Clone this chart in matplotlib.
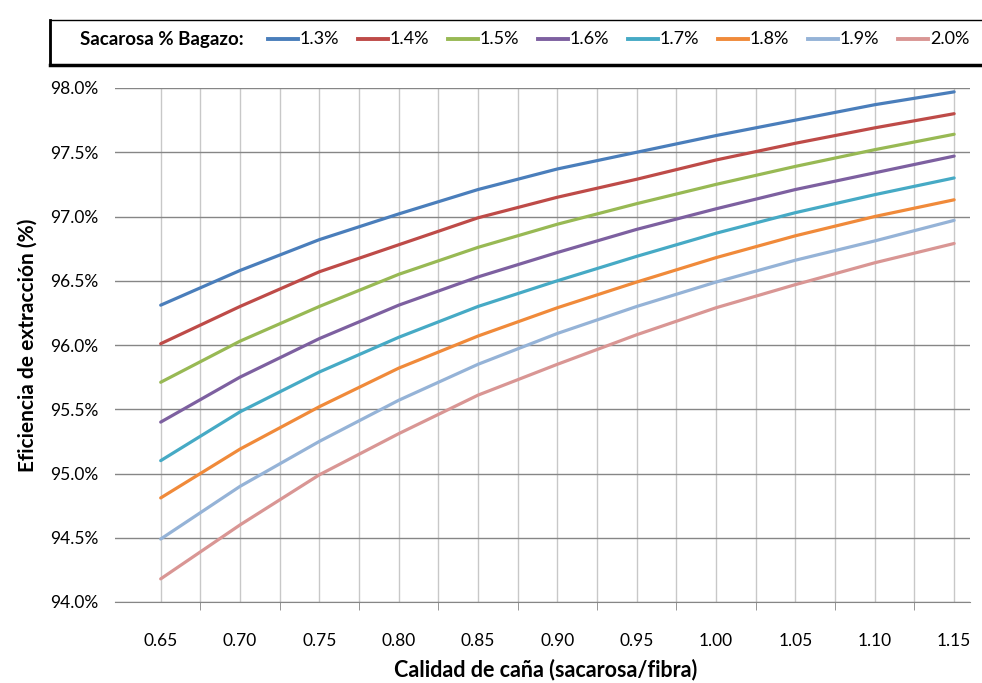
import numpy as np
import matplotlib
matplotlib.use('Agg')
import matplotlib.pyplot as plt
from matplotlib.patches import Rectangle
from matplotlib.lines import Line2D
from matplotlib.ticker import FuncFormatter

plt.rcParams['font.family'] = ['Lato', 'DejaVu Sans']

# calidad de caña (sacarosa/fibra)
calidad = [0.65, 0.70, 0.75, 0.80, 0.85, 0.90, 0.95, 1.00, 1.05, 1.10, 1.15]

# eficiencia de extraccion (%) para cada sacarosa % bagazo
ef_13 = [96.31, 96.58, 96.82, 97.02, 97.21, 97.37, 97.50, 97.63, 97.75, 97.87, 97.97]
ef_14 = [96.01, 96.30, 96.57, 96.78, 96.99, 97.15, 97.29, 97.44, 97.57, 97.69, 97.80]
ef_15 = [95.71, 96.03, 96.30, 96.55, 96.76, 96.94, 97.10, 97.25, 97.39, 97.52, 97.64]
ef_16 = [95.40, 95.75, 96.05, 96.31, 96.53, 96.72, 96.90, 97.06, 97.21, 97.34, 97.47]
ef_17 = [95.10, 95.48, 95.79, 96.06, 96.30, 96.50, 96.69, 96.87, 97.03, 97.17, 97.30]
ef_18 = [94.81, 95.19, 95.52, 95.82, 96.07, 96.29, 96.49, 96.68, 96.85, 97.00, 97.13]
ef_19 = [94.49, 94.90, 95.25, 95.57, 95.85, 96.09, 96.30, 96.49, 96.66, 96.81, 96.97]
ef_20 = [94.18, 94.60, 94.99, 95.31, 95.61, 95.85, 96.08, 96.29, 96.47, 96.64, 96.79]

etiquetas = ['1.3%', '1.4%', '1.5%', '1.6%', '1.7%', '1.8%', '1.9%', '2.0%']
series = [ef_13, ef_14, ef_15, ef_16, ef_17, ef_18, ef_19, ef_20]
colores = ['#4a7ebb', '#be4b48', '#98b954', '#7d60a0', '#46aac5', '#f08a3a', '#95b3d7', '#d99694']

fig = plt.figure(figsize=(9.82, 6.83), dpi=100)
ax = fig.add_axes([115/982, 1-602/683, (970-115)/982, (602-88)/683])

# rejilla vertical cada 0.025 y horizontal cada 0.5
for xv in np.arange(0.65, 1.1501, 0.025):
    ax.axvline(xv, color='#c8c8c8', lw=1.0, zorder=1)
for yv in np.arange(94.0, 98.01, 0.5):
    ax.axhline(yv, color='#868686', lw=1.0, zorder=1)

for ys, c, lab in zip(series, colores, etiquetas):
    ax.plot(calidad, ys, color=c, lw=2.3, label=lab, zorder=3, solid_capstyle='round')

ax.set_xlim(0.6212, 1.160)
ax.set_ylim(94.0, 98.0)
ax.set_yticks(np.arange(94.0, 98.01, 0.5))
ax.yaxis.set_major_formatter(FuncFormatter(lambda v, p: '%.1f%%' % v))
ax.set_xticks(calidad)
ax.set_xticklabels(['%.2f' % v for v in calidad])
ax.set_xticks(np.arange(0.675, 1.13, 0.05), minor=True)
ax.tick_params(axis='x', which='major', length=0, pad=22, labelsize=12.5, colors='black')
ax.tick_params(axis='x', which='minor', length=6, direction='out', color='#868686')
ax.tick_params(axis='y', length=0, pad=12, labelsize=12.5)

for s in ['left', 'right', 'top']:
    ax.spines[s].set_visible(False)
ax.spines['bottom'].set_color('#868686')
ax.spines['bottom'].set_zorder(2)

fig.text(546/982, 1-670/683, 'Calidad de caña (sacarosa/fibra)', fontsize=15.5, fontweight='bold',
         ha='center', va='center')
fig.text(28/982, 1-345/683, 'Eficiencia de extracción (%)', fontsize=15, fontweight='bold',
         ha='center', va='center', rotation=90)

# caja de leyenda
x0, y0, x1, y1 = 50/982, 1-65/683, 1.01, 1-20/683
fig.patches.append(Rectangle((x0, y0), x1-x0, y1-y0, transform=fig.transFigure,
                             facecolor='white', edgecolor='black', lw=1.0, zorder=0))
fig.lines.append(Line2D([x0, x0], [y0, y1], transform=fig.transFigure, color='black', lw=2.0))
fig.lines.append(Line2D([x0, x1], [y0, y0], transform=fig.transFigure, color='black', lw=2.5))

yl = 1-39/683
fig.text(80/982, yl, 'Sacarosa % Bagazo:', fontsize=13.5, fontweight='bold', ha='left', va='center',
         family=['Liberation Sans Narrow', 'Lato'])
for i, (c, lab) in enumerate(zip(colores, etiquetas)):
    xs = 268 + i*90
    fig.lines.append(Line2D([xs/982, (xs+30)/982], [yl, yl], transform=fig.transFigure,
                            color=c, lw=2.8))
    fig.text((xs+32)/982, yl, lab, fontsize=13, ha='left', va='center',
             family=['Liberation Sans Narrow', 'Lato'])

plt.savefig('out.png', dpi=100)
